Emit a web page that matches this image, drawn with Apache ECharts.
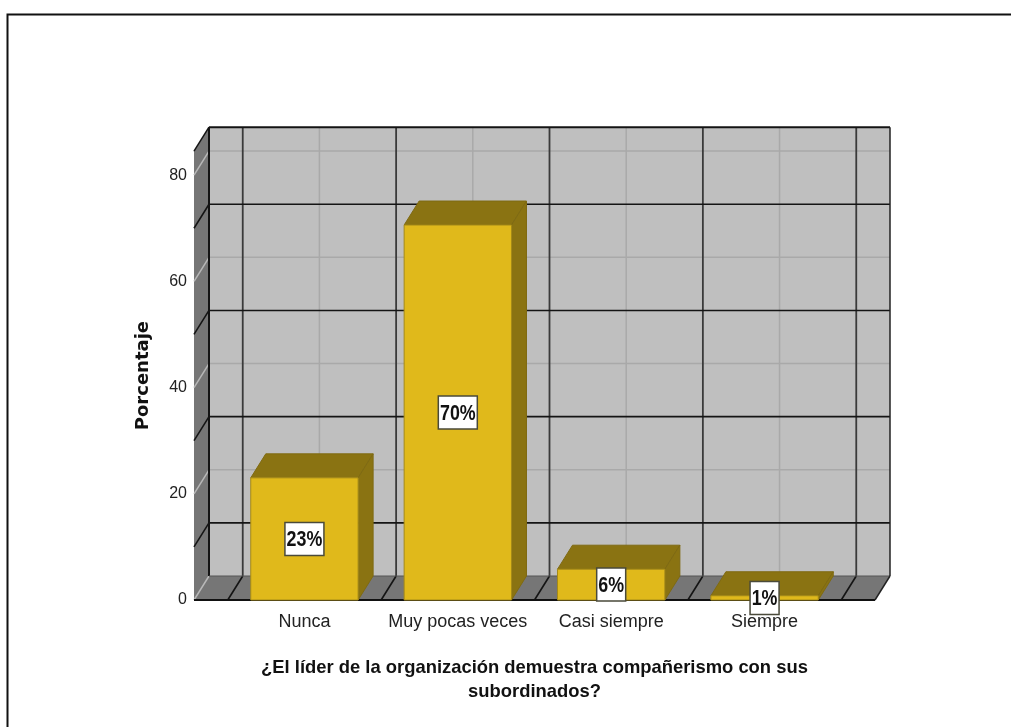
<!DOCTYPE html>
<html><head><meta charset="utf-8">
<style>html,body{margin:0;padding:0;background:#fff}#c{width:1011px;height:727px}</style>
<script src="https://cdn.jsdelivr.net/npm/echarts@6/dist/echarts.min.js"></script>
</head><body><div id="c"></div>
<script>
const categories = ['Nunca', 'Muy pocas veces', 'Casi siempre', 'Siempre'];
const percentages = [23, 70.6, 5.8, 0.8];
const barLabels = ['23%', '70%', '6%', '1%'];
const yTicks = [0, 20, 40, 60, 80];
const yDark = [10, 30, 50, 70];
const xDark = [-0.5, 0.5, 1.5, 2.5, 3.5];
const xLight = [0, 1, 2, 3];
const xMin = -0.72, xMax = 3.72, yMin = 0, yMax = 84.5;
const DX = 15, DY = -24, BAR_HALF = 0.35;
const FONT = '"Liberation Sans",Arial,sans-serif';

const chart = echarts.init(document.getElementById('c'), null, {renderer: 'canvas'});
const poly = (points, fill, stroke, lw, z2) => ({type: 'polygon', shape: {points}, style: {fill, stroke: stroke || fill, lineWidth: lw || 0}, z2: z2 || 0});
const line = (a, b, stroke, lw, z2) => ({type: 'line', shape: {x1: a[0], y1: a[1], x2: b[0], y2: b[1]}, style: {stroke, lineWidth: lw}, z2: z2 || 1});
const back = p => [p[0] + DX, p[1] + DY];

function renderWalls(params, api) {
  const c = (x, y) => api.coord([x, y]);
  const fl = c(xMin, 0), fr = c(xMax, 0), tl = c(xMin, yMax);
  const kids = [
    poly([back(tl), back([fr[0], tl[1]]), back(fr), back(fl)], '#bfbfbf'),
    poly([fl, tl, back(tl), back(fl)], '#767676'),
    poly([fl, fr, back(fr), back(fl)], '#767676')
  ];
  const DARK = '#141414', LIGHT = '#a9a9a9';
  xLight.forEach(x => {
    const p = c(x, 0);
    kids.push(line(back(p), back([p[0], tl[1]]), LIGHT, 1.5));
    kids.push(line(p, back(p), '#8c8c8c', 1));
  });
  yTicks.forEach(y => {
    const p = c(xMin, y);
    if (y > 0) kids.push(line(back(p), back([fr[0], p[1]]), LIGHT, 1.5));
    kids.push(line(p, back(p), '#b8b8b8', 1.5));
  });
  xDark.forEach(x => {
    const p = c(x, 0);
    kids.push(line(back(p), back([p[0], tl[1]]), '#3a3a3a', 1.8, 2));
    kids.push(line(p, back(p), DARK, 1.6, 2));
  });
  yDark.forEach(y => {
    const p = c(xMin, y);
    kids.push(line(back(p), back([fr[0], p[1]]), DARK, 1.6, 2));
    kids.push(line(p, back(p), DARK, 1.6, 2));
  });
  kids.push(line(back(tl), back([fr[0], tl[1]]), DARK, 2, 3));
  kids.push(line(back(tl), back(fl), DARK, 2, 3));
  kids.push(line(back(fl), back(fr), '#555', 1, 3));
  kids.push(line(back([fr[0], tl[1]]), back(fr), '#222', 1.5, 3));
  kids.push(line(tl, back(tl), DARK, 1.5, 3));
  kids.push(line(fl, fr, '#111', 2, 3));
  kids.push(line(fr, back(fr), '#222', 1.5, 3));
  return {type: 'group', children: kids};
}

function renderBar(params, api) {
  const i = api.value(0), v = api.value(1);
  const bl = api.coord([i - BAR_HALF, 0]), tr = api.coord([i + BAR_HALF, v]);
  const tl = [bl[0], tr[1]], br = [tr[0], bl[1]];
  const EDGE = '#7f6a12', DARK = '#8a7312', FRONT = '#e0b91b';
  return {type: 'group', children: [
    poly([tl, tr, back(tr), back(tl)], DARK, EDGE, 1),
    poly([br, tr, back(tr), back(br)], DARK, EDGE, 1),
    poly([bl, br, tr, tl], FRONT, '#a58a18', 1)
  ]};
}

function renderLabel(params, api) {
  const i = api.value(0), v = api.value(1);
  const p = api.coord([i, v / 2]);
  const h = 33, w = barLabels[i].length === 3 ? 39 : 29;
  return {type: 'group', children: [
    {type: 'rect', shape: {x: p[0] - w / 2, y: p[1] - h / 2, width: w, height: h},
      style: {fill: '#fff', stroke: '#4a4a3a', lineWidth: 1.5}},
    {type: 'text', x: p[0], y: p[1] + 1, scaleX: 0.85, scaleY: 1.05, style: {text: barLabels[i], x: 0, y: 0, align: 'center', verticalAlign: 'middle',
      font: 'bold 21px ' + FONT, fill: '#111'}, z2: 5}
  ]};
}

chart.setOption({
  animation: false,
  backgroundColor: '#fff',
  graphic: [{type: 'polyline', silent: true, shape: {points: [[7.5, 727], [7.5, 14.5], [1011, 14.5]]}, style: {stroke: '#111', lineWidth: 2, fill: null}}],
  grid: {left: 194, right: 136, top: 151.2, bottom: 127},
  xAxis: {
    type: 'value', min: xMin, max: xMax,
    splitLine: {show: false}, axisLine: {show: false}, axisTick: {show: false},
    axisLabel: {customValues: [0, 1, 2, 3], formatter: v => categories[v], color: '#222', fontFamily: FONT, fontSize: 18, margin: 13},
    name: '¿El líder de la organización demuestra compañerismo con sus\nsubordinados?',
    nameLocation: 'middle', nameGap: 56,
    nameTextStyle: {color: '#111', fontFamily: FONT, fontWeight: 'bold', fontSize: 18.4, lineHeight: 24}
  },
  yAxis: {
    type: 'value', min: yMin, max: yMax,
    splitLine: {show: false}, axisLine: {show: false}, axisTick: {show: false},
    axisLabel: {customValues: yTicks, color: '#222', fontFamily: FONT, fontSize: 16, margin: 7, padding: [2, 0, 0, 0]},
    name: 'Porcentaje', nameLocation: 'middle', nameGap: 42,
    nameTextStyle: {color: '#111', fontFamily: '"DejaVu Sans",sans-serif', fontWeight: 'bold', fontSize: 18}
  },
  series: [
    {type: 'custom', name: 'walls', renderItem: renderWalls, data: [[0, 0]], silent: true, z: 1, clip: false},
    {type: 'custom', name: 'Porcentaje', renderItem: renderBar, data: percentages.map((v, i) => [i, v]), encode: {x: 0, y: 1}, z: 2, clip: false},
    {type: 'custom', name: 'labels', renderItem: renderLabel, data: percentages.map((v, i) => [i, v]), encode: {x: 0, y: 1}, z: 10, clip: false}
  ]
});
</script></body></html>
